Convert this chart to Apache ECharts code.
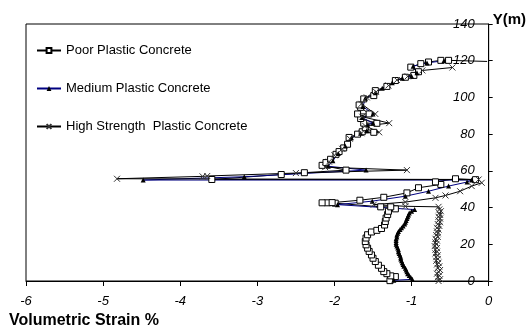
<!DOCTYPE html>
<html>
<head>
<meta charset="utf-8">
<script src="https://cdn.jsdelivr.net/npm/echarts@6/dist/echarts.min.js"></script>
<style>
  html, body { margin: 0; padding: 0; background: #fff; }
  #app { width: 529px; height: 330px; }
</style>
</head>
<body>
<div id="app"></div>
<script>
// volumetric strain (%) vs. depth Y (m)
const seriesNames = ['Poor Plastic Concrete', 'Medium Plastic Concrete', 'High Strength  Plastic Concrete'];
const xTicks = [-6, -5, -4, -3, -2, -1, 0];
const yTicks = [0, 20, 40, 60, 80, 100, 120, 140];

const poorData = [
    [-1.28, 0.2], [-1.21, 2.4], [-1.27, 2.8], [-1.32, 4.0], [-1.36, 5.1], [-1.39, 6.9], [-1.43, 8.6],
    [-1.47, 10.6], [-1.50, 12.4], [-1.52, 14.2], [-1.55, 16.1], [-1.57, 17.9], [-1.59, 19.7], [-1.60, 21.5],
    [-1.59, 23.4], [-1.57, 25.2], [-1.52, 26.7], [-1.45, 27.6], [-1.39, 28.6], [-1.35, 30.5], [-1.34, 32.4],
    [-1.33, 34.3], [-1.31, 36.2], [-1.30, 38.0], [-1.21, 39.3], [-1.27, 40.4], [-1.40, 40.4],
    [-1.99, 42.4], [-2.09, 42.6], [-2.16, 42.6], [-2.03, 42.7], [-1.67, 44.0], [-1.36, 45.6], [-1.06, 48.0],
    [-0.91, 50.8], [-0.62, 52.6], [-0.69, 54.0], [-0.43, 55.7], [-0.17, 55.2], [-3.59, 55.3], [-2.69, 58.0],
    [-2.39, 59.0], [-1.85, 60.4], [-2.16, 63.0], [-2.11, 64.5], [-2.05, 66.3], [-1.98, 69.0], [-1.94, 70.5],
    [-1.88, 72.5], [-1.83, 74.5], [-1.81, 78.2], [-1.70, 80.0], [-1.64, 81.3], [-1.49, 81.0], [-1.60, 83.5],
    [-1.62, 86.0], [-1.45, 85.9], [-1.66, 88.5], [-1.70, 91.0], [-1.55, 91.0], [-1.66, 94.6], [-1.68, 95.9],
    [-1.62, 99.2], [-1.49, 101.0], [-1.47, 103.7], [-1.32, 106.0], [-1.21, 109.2], [-1.08, 111.0],
    [-0.97, 112.0], [-0.91, 114.0], [-1.01, 116.5], [-0.88, 118.4], [-0.78, 119.3], [-0.62, 120.2],
    [-0.52, 120.2], [-0.02, 119.6]
];

const mediumData = [
    [-1.23, 0.4], [-0.99, 0.9], [-1.01, 2.0], [-1.03, 3.0], [-1.05, 4.0], [-1.06, 5.0], [-1.07, 6.0],
    [-1.08, 7.0], [-1.10, 8.0], [-1.11, 9.0], [-1.12, 10.0], [-1.13, 11.0], [-1.14, 12.0], [-1.14, 13.0],
    [-1.15, 14.0], [-1.16, 15.0], [-1.17, 16.0], [-1.17, 17.0], [-1.18, 18.0], [-1.19, 19.0], [-1.20, 20.0],
    [-1.20, 21.0], [-1.20, 22.0], [-1.20, 23.0], [-1.19, 24.0], [-1.19, 25.0], [-1.18, 26.0], [-1.17, 27.0],
    [-1.15, 28.0], [-1.13, 29.0], [-1.11, 30.0], [-1.09, 31.0], [-1.08, 32.0], [-1.07, 33.0], [-1.06, 34.0],
    [-1.05, 35.0], [-1.04, 36.0], [-1.03, 37.0], [-1.00, 38.0], [-0.96, 38.9], [-1.96, 41.6], [-1.51, 43.5],
    [-1.08, 46.2], [-0.78, 48.9], [-0.52, 51.7], [-0.28, 53.9], [-0.22, 55.0], [-4.48, 55.0], [-3.17, 56.8],
    [-1.59, 60.4], [-2.08, 62.5], [-2.02, 65.5], [-1.95, 69.5], [-1.86, 73.5], [-1.78, 78.0], [-1.66, 80.5],
    [-1.58, 82.0], [-1.57, 85.0], [-1.50, 86.0], [-1.64, 89.0], [-1.50, 91.0], [-1.63, 95.0], [-1.60, 99.5],
    [-1.47, 102.5], [-1.38, 105.0], [-1.25, 108.0], [-1.12, 110.5], [-1.00, 111.5], [-0.93, 113.5],
    [-0.98, 117.0], [-0.80, 118.8], [-0.58, 120.0]
];

const highData = [
    [-0.65, 0.0], [-0.63, 1.0], [-0.66, 2.0], [-0.64, 3.0], [-0.67, 4.0], [-0.65, 5.0], [-0.63, 6.0],
    [-0.66, 7.0], [-0.64, 8.0], [-0.67, 9.0], [-0.65, 10.0], [-0.68, 11.0], [-0.66, 12.0], [-0.68, 13.0],
    [-0.66, 14.0], [-0.69, 15.0], [-0.67, 16.0], [-0.69, 17.0], [-0.67, 18.0], [-0.70, 19.0], [-0.68, 20.0],
    [-0.69, 21.0], [-0.67, 22.0], [-0.69, 23.0], [-0.66, 24.0], [-0.68, 25.0], [-0.66, 26.0], [-0.67, 27.0],
    [-0.65, 28.0], [-0.67, 29.0], [-0.64, 30.0], [-0.66, 31.0], [-0.63, 32.0], [-0.65, 33.0], [-0.63, 34.0],
    [-0.65, 35.0], [-0.63, 36.0], [-0.64, 37.0], [-0.62, 38.0], [-0.64, 39.0], [-0.65, 40.4], [-1.08, 40.7],
    [-1.49, 41.6], [-1.08, 43.0], [-0.69, 45.3], [-0.56, 46.6], [-0.37, 48.9], [-0.22, 51.7], [-0.09, 53.5],
    [-0.13, 55.3], [-4.82, 55.7], [-3.71, 57.0], [-3.65, 57.2], [-2.50, 58.8], [-1.06, 60.4], [-2.12, 62.0],
    [-2.07, 65.0], [-2.00, 68.5], [-1.90, 72.0], [-1.80, 77.5], [-1.65, 80.5], [-1.42, 81.0], [-1.60, 84.5],
    [-1.29, 86.0], [-1.64, 89.5], [-1.47, 91.0], [-1.65, 96.5], [-1.58, 100.0], [-1.46, 103.0],
    [-1.30, 106.5], [-1.19, 109.5], [-1.05, 111.5], [-0.86, 114.7], [-0.47, 116.3]
];

const xMark = 'path://M0,0L10,10M10,0L0,10';
const font = 'Liberation Sans, Arial, sans-serif';

// the last poor point sits on the axis, drawn as line only
const poorItems = poorData.map((p, i) => i === poorData.length - 1 ? {value: p, symbol: 'none'} : p);

const chart = echarts.init(document.getElementById('app'), null, {renderer: 'canvas'});

chart.setOption({
    animation: false,
    textStyle: {fontFamily: font, color: '#000'},
    grid: {
        left: 26,
        right: 39,
        top: 24,
        bottom: 49,
        show: true,
        borderColor: '#000',
        borderWidth: 1
    },
    legend: {
        orient: 'vertical',
        left: 31,
        top: 39,
        itemGap: 25,
        itemWidth: 24,
        itemHeight: 6,
        textStyle: {fontSize: 13, fontFamily: font, color: '#000'},
        data: seriesNames
    },
    xAxis: {
        type: 'value',
        min: -6,
        max: 0,
        interval: 1,
        axisLine: {show: true, onZero: false, lineStyle: {color: '#000', width: 1}},
        axisTick: {show: true, length: 5, lineStyle: {color: '#000'}},
        splitLine: {show: false},
        axisLabel: {
            fontStyle: 'italic',
            fontSize: 13,
            color: '#000',
            margin: 14,
            formatter: v => xTicks.includes(v) ? String(v) : ''
        }
    },
    yAxis: {
        type: 'value',
        position: 'right',
        min: 0,
        max: 140,
        interval: 20,
        name: 'Y(m)',
        nameLocation: 'end',
        nameGap: 4,
        nameTextStyle: {
            fontWeight: 'bold',
            fontSize: 15,
            color: '#000',
            align: 'left',
            verticalAlign: 'middle',
            padding: [0, 0, 0, 4]
        },
        axisLine: {show: true, onZero: false, lineStyle: {color: '#000', width: 1}},
        axisTick: {show: true, length: 4, lineStyle: {color: '#000'}},
        splitLine: {show: false},
        axisLabel: {
            inside: true,
            fontStyle: 'italic',
            fontSize: 13,
            color: '#000',
            margin: 14,
            formatter: v => yTicks.includes(v) ? String(v) : ''
        }
    },
    graphic: [{
        type: 'text',
        left: 9,
        top: 313,
        style: {
            text: 'Volumetric Strain %',
            font: 'bold 16px ' + font,
            fill: '#000'
        }
    }],
    series: [
        {
            name: seriesNames[0],
            type: 'line',
            data: poorItems,
            symbol: 'rect',
            symbolSize: 6,
            showAllSymbol: true,
            lineStyle: {color: '#000', width: 1},
            itemStyle: {color: '#fff', borderColor: '#000', borderWidth: 1}
        },
        {
            name: seriesNames[1],
            type: 'line',
            data: mediumData,
            symbol: 'triangle',
            symbolSize: 5,
            showAllSymbol: true,
            lineStyle: {color: '#000080', width: 1},
            itemStyle: {color: '#000', borderColor: '#000', borderWidth: 0}
        },
        {
            name: seriesNames[2],
            type: 'line',
            data: highData,
            symbol: xMark,
            symbolSize: 6,
            showAllSymbol: true,
            lineStyle: {color: '#000', width: 1},
            itemStyle: {color: '#000', borderColor: '#333', borderWidth: 1}
        }
    ]
});

addEventListener('resize', () => chart.resize());
</script>
</body>
</html>
